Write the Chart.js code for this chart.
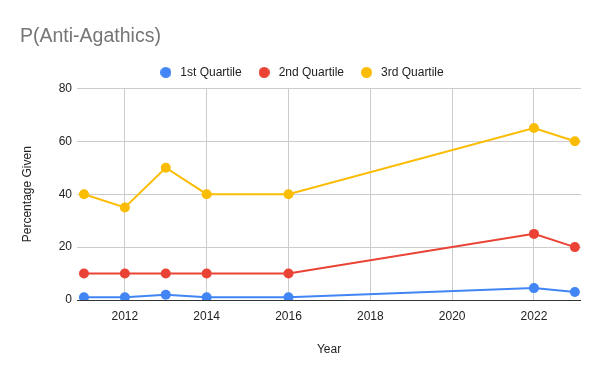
<!DOCTYPE html>
<html lang="en">
<head>
<meta charset="UTF-8">
<title>P(Anti-Agathics)</title>
<style>
    body { margin: 0; padding: 0; background: #fff; }
    #wrap { width: 600px; height: 371px; }
</style>
</head>
<body>
<div id="wrap"><canvas id="chart" width="600" height="371"></canvas></div>
<script src="https://cdn.jsdelivr.net/npm/chart.js"></script>
<script>
    const years = [2011, 2012, 2013, 2014, 2016, 2022, 2023];
    const q1 = [1, 1, 2, 1, 1, 4.5, 3];
    const q2 = [10, 10, 10, 10, 10, 25, 20];
    const q3 = [40, 35, 50, 40, 40, 65, 60];
    const xTicks = [2012, 2014, 2016, 2018, 2020, 2022];
    const yTicks = [0, 20, 40, 60, 80];

    const FONT = '"Liberation Sans", Arial, sans-serif';

    function pts(vals) {
        return years.map((y, i) => ({ x: y, y: vals[i] }));
    }

    function series(label, vals, color) {
        return {
            label: label,
            data: pts(vals),
            borderColor: color,
            backgroundColor: color,
            borderWidth: 2,
            pointRadius: 5,
            pointHoverRadius: 5,
            pointBorderWidth: 0,
            tension: 0
        };
    }

    // small filled circle used as legend marker
    function dot(color) {
        const c = document.createElement('canvas');
        c.width = 11;
        c.height = 11;
        const g = c.getContext('2d');
        g.fillStyle = color;
        g.beginPath();
        g.arc(5.5, 5.5, 5.5, 0, Math.PI * 2);
        g.fill();
        return c;
    }

    new Chart(document.getElementById('chart'), {
        type: 'line',
        data: {
            datasets: [
                series('1st Quartile', q1, '#4285F4'),
                series('2nd Quartile', q2, '#EA4335'),
                series('3rd Quartile', q3, '#FBBC04')
            ]
        },
        options: {
            responsive: false,
            animation: false,
            layout: { padding: { top: 10, left: 20, right: 19, bottom: 0 } },
            plugins: {
                tooltip: { enabled: false },
                title: {
                    display: true,
                    text: 'P(Anti-Agathics)',
                    align: 'start',
                    color: '#757575',
                    font: { family: FONT, size: 19.5, weight: 'normal' },
                    padding: { top: 15, bottom: 4 }
                },
                legend: {
                    position: 'top',
                    labels: {
                        usePointStyle: true,
                        pointStyleWidth: 17,
                        boxHeight: 11,
                        padding: 14,
                        color: '#222',
                        font: { family: FONT, size: 12 },
                        generateLabels: (chart) => {
                            const items = Chart.defaults.plugins.legend.labels.generateLabels(chart);
                            items.forEach(it => {
                                it.pointStyle = dot(chart.data.datasets[it.datasetIndex].borderColor);
                            });
                            return items;
                        }
                    }
                }
            },
            scales: {
                x: {
                    type: 'linear',
                    min: 2010.83,
                    max: 2023.15,
                    afterBuildTicks: (scale) => {
                        scale.ticks = xTicks.map(v => ({ value: v }));
                    },
                    afterFit: (scale) => { scale.height = 71; },
                    border: { display: false },
                    grid: { color: '#cccccc', drawTicks: false },
                    ticks: {
                        padding: 9,
                        color: '#222',
                        font: { family: FONT, size: 12 },
                        callback: (v) => String(v)
                    },
                    title: {
                        display: true,
                        text: 'Year',
                        color: '#222',
                        font: { family: FONT, size: 12 },
                        padding: { top: 0, bottom: 14 }
                    }
                },
                y: {
                    min: 0,
                    max: 80,
                    afterBuildTicks: (scale) => {
                        scale.ticks = yTicks.map(v => ({ value: v }));
                    },
                    afterFit: (scale) => { scale.width = 57; },
                    border: { display: false },
                    grid: {
                        drawTicks: false,
                        color: (ctx) => ctx.tick && ctx.tick.value === 0 ? '#333333' : '#cccccc'
                    },
                    ticks: {
                        padding: 5,
                        color: '#222',
                        font: { family: FONT, size: 12 }
                    },
                    title: {
                        display: true,
                        text: 'Percentage Given',
                        color: '#222',
                        font: { family: FONT, size: 12 },
                        padding: { top: 0, bottom: 10 }
                    }
                }
            }
        }
    });
</script>
</body>
</html>
